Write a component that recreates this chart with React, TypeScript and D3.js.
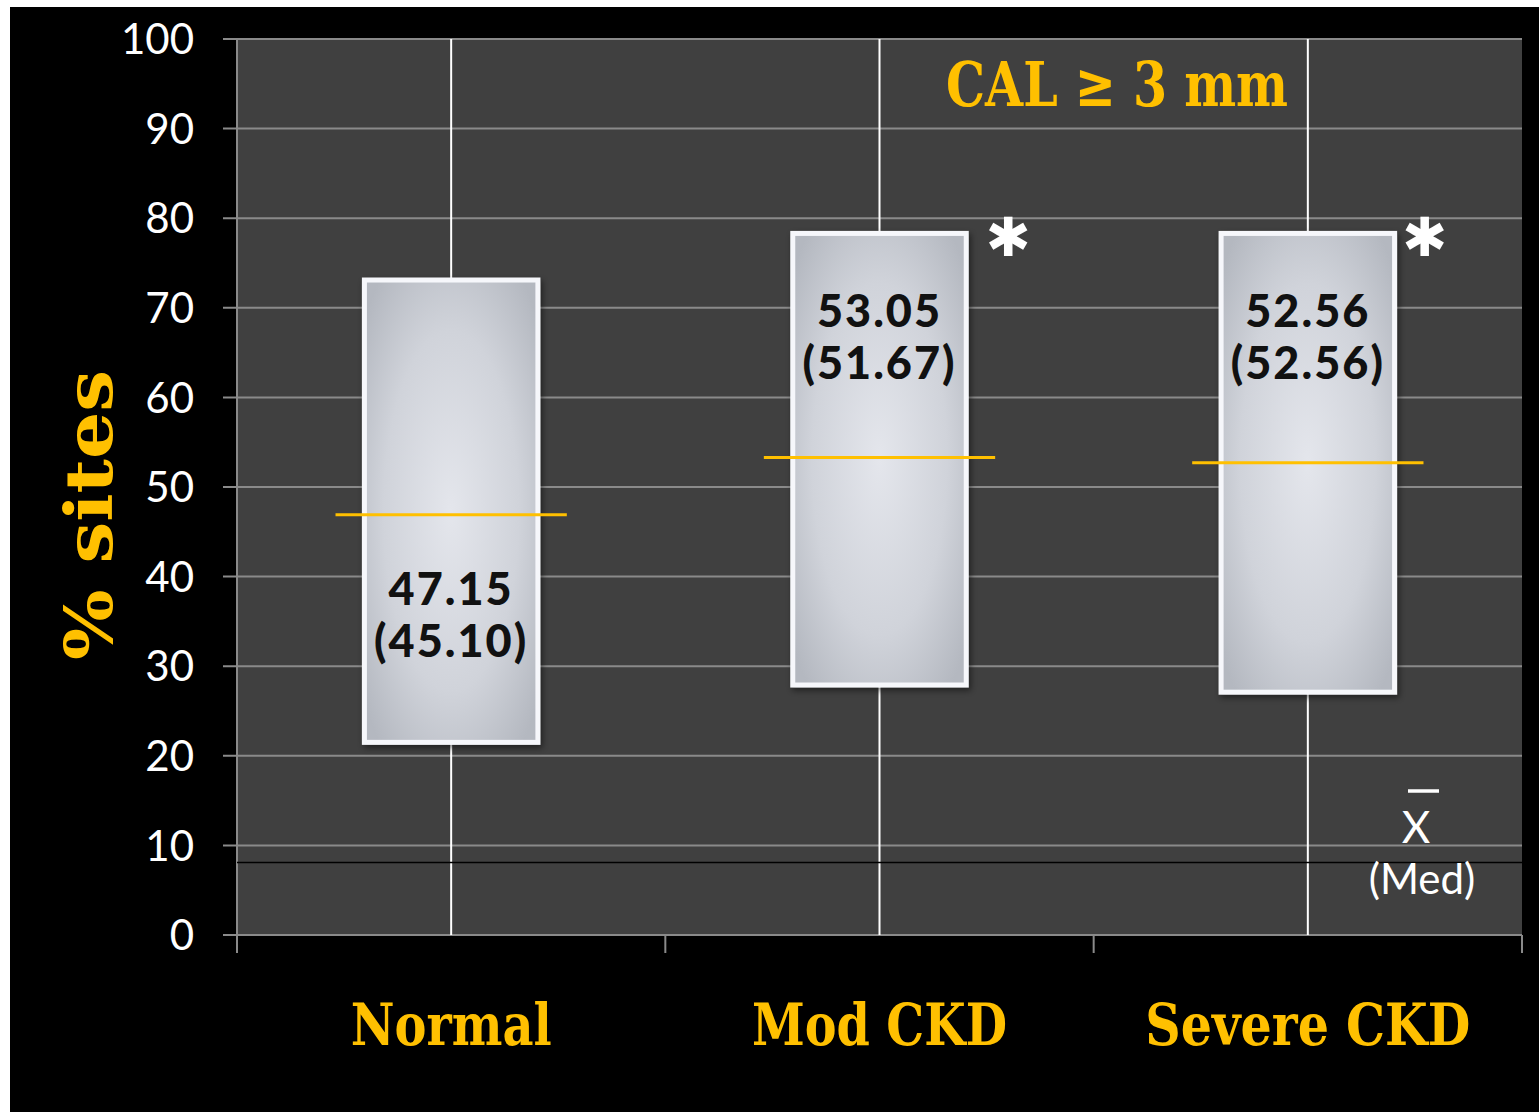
import React from "react";
import * as d3 from "d3";

const categories = ["Normal", "Mod CKD", "Severe CKD"];
const boxLow = [21.5, 27.9, 27.1];
const boxHigh = [73.1, 78.3, 78.3];
const whiskerLow = [0, 0, 0];
const whiskerHigh = [100, 100, 100];
const means = [46.9, 53.3, 52.7];
const meanLabels = ["47.15", "53.05", "52.56"];
const medianLabels = ["(45.10)", "(51.67)", "(52.56)"];
const labelAnchor = [36.8, 67.9, 67.9];
const significant = [false, true, true];
const yTicks = [0, 10, 20, 30, 40, 50, 60, 70, 80, 90, 100];
const refLine = 8.1;

const W = 1539;
const H = 1112;
const plot = { left: 237, right: 1522, top: 39, bottom: 935 };

export default function App() {
  const x = d3.scaleBand<string>().domain(categories).range([plot.left, plot.right]).padding(0);
  const y = d3.scaleLinear().domain([0, 100]).range([plot.bottom, plot.top]);
  const bw = x.bandwidth();
  const boxW = bw * 0.405;
  const meanW = bw * 0.54;
  const orange = "#FFC000";
  const tickFont = "Lato, 'Open Sans', sans-serif";
  const headFont = "'DejaVu Serif Condensed', 'DejaVu Serif', serif";
  const starOffset = [0, 42, 30];
  const boundaries = [plot.left, ...categories.map((c) => (x(c) as number) + bw)];

  return (
    <svg width={W} height={H} style={{ position: "absolute", left: 0, top: 0, background: "#fff" }}>
      <defs>
        <radialGradient id="boxGrad" cx="50%" cy="50%" r="65%">
          <stop offset="0%" stopColor="#e4e6ec" />
          <stop offset="60%" stopColor="#d0d3da" />
          <stop offset="100%" stopColor="#b4b8c0" />
        </radialGradient>
        <filter id="shadow" x="-10%" y="-10%" width="120%" height="120%">
          <feDropShadow dx="2" dy="3" stdDeviation="3" floodColor="#000" floodOpacity="0.5" />
        </filter>
      </defs>
      <rect x={10} y={7} width={W - 10} height={H - 7} fill="#000" />
      <rect x={plot.left} y={plot.top} width={plot.right - plot.left} height={plot.bottom - plot.top} fill="#404040" />

      {yTicks.map((t) => (
        <g key={t}>
          <line x1={223} x2={plot.right} y1={y(t)} y2={y(t)} stroke="#8a8a8a" strokeWidth={2} />
          <text x={194} y={y(t)} dy="0.36em" textAnchor="end" fill="#fff" fontFamily={tickFont} fontSize={42}>
            {t}
          </text>
        </g>
      ))}
      <line x1={plot.left} x2={plot.left} y1={plot.top} y2={plot.bottom} stroke="#8a8a8a" strokeWidth={2} />
      {boundaries.map((b, i) => (
        <line key={i} x1={b} x2={b} y1={plot.bottom} y2={953} stroke="#8a8a8a" strokeWidth={2} />
      ))}
      <line x1={plot.left} x2={plot.right} y1={plot.bottom} y2={plot.bottom} stroke="#8a8a8a" strokeWidth={2} />

      {categories.map((c, i) => {
        const cx = (x(c) as number) + bw / 2;
        return (
          <line key={c} x1={cx} x2={cx} y1={y(whiskerHigh[i])} y2={y(whiskerLow[i])} stroke="#fff" strokeWidth={2} />
        );
      })}

      <line x1={plot.left} x2={plot.right} y1={y(refLine)} y2={y(refLine)} stroke="#000" strokeWidth={1.5} />

      {categories.map((c, i) => {
        const cx = (x(c) as number) + bw / 2;
        const top = y(boxHigh[i]);
        const bot = y(boxLow[i]);
        return (
          <g key={c}>
            <rect
              x={cx - boxW / 2}
              y={top}
              width={boxW}
              height={bot - top}
              fill="url(#boxGrad)"
              stroke="#f6f7fb"
              strokeWidth={5}
              filter="url(#shadow)"
            />
            <line x1={cx - meanW / 2} x2={cx + meanW / 2} y1={y(means[i])} y2={y(means[i])} stroke={orange} strokeWidth={3} />
            <text
              x={cx}
              y={y(labelAnchor[i])}
              textAnchor="middle"
              fill="#111"
              fontFamily={tickFont}
              fontWeight={900}
              fontSize={45}
              letterSpacing={2}
            >
              {meanLabels[i]}
            </text>
            <text
              x={cx}
              y={y(labelAnchor[i]) + 52}
              textAnchor="middle"
              fill="#111"
              fontFamily={tickFont}
              fontWeight={900}
              fontSize={45}
              letterSpacing={2}
            >
              {medianLabels[i]}
            </text>
            {significant[i] && (
              <text
                x={cx + boxW / 2 + starOffset[i]}
                y={y(boxHigh[i]) + 4}
                dy="0.35em"
                textAnchor="middle"
                fill="#fff"
                fontFamily="'DejaVu Sans', sans-serif"
                fontWeight="bold"
                fontSize={54}
              >
                ✱
              </text>
            )}
            <text
              x={cx}
              y={1045}
              textAnchor="middle"
              fill={orange}
              fontFamily={headFont}
              fontWeight="bold"
              fontSize={58}
              textLength={[201, 255, 325][i]}
              lengthAdjust="spacingAndGlyphs"
            >
              {c}
            </text>
          </g>
        );
      })}

      <text
        x={946}
        y={106}
        fill={orange}
        fontFamily={headFont}
        fontWeight="bold"
        fontSize={62}
        textLength={342}
        lengthAdjust="spacingAndGlyphs"
      >
        CAL ≥ 3 mm
      </text>

      <text
        transform={`translate(112, ${515}) rotate(-90)`}
        textAnchor="middle"
        fill={orange}
        fontFamily={headFont}
        fontWeight="bold"
        fontSize={66}
        textLength={290}
        lengthAdjust="spacingAndGlyphs"
      >
        %  sites
      </text>

      <line x1={1408} x2={1439} y1={791} y2={791} stroke="#fff" strokeWidth={3.5} />
      <text x={1416} y={843} textAnchor="middle" fill="#fff" fontFamily={tickFont} fontSize={44}>
        X
      </text>
      <text x={1422} y={894} textAnchor="middle" fill="#fff" fontFamily={tickFont} fontSize={42}>
        (Med)
      </text>
    </svg>
  );
}
